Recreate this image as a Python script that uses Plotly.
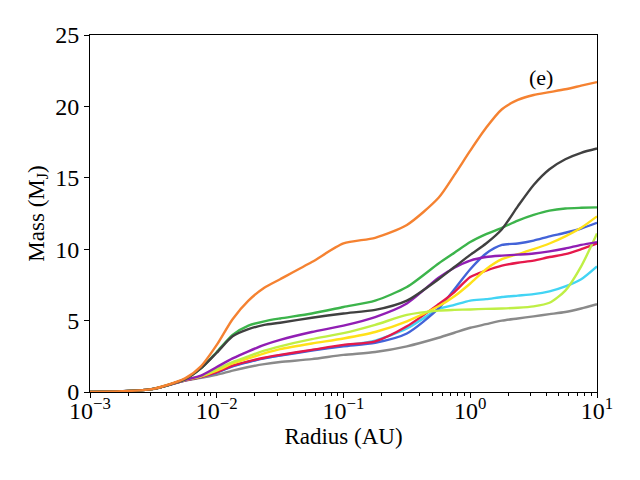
import plotly.graph_objects as go

# log10(radius / AU) sample positions
log_radius = [-3, -2.75, -2.5, -2.25, -2.125, -2, -1.875, -1.75, -1.625, -1.5, -1.25, -1,
              -0.75, -0.5, -0.25, -0.125, 0, 0.125, 0.25, 0.375, 0.5, 0.625, 0.75, 0.875, 1]
radius = [10 ** v for v in log_radius]

mass_orange = [0, 0.05, 0.22, 0.95, 1.8, 3.3, 5.1, 6.4, 7.3, 7.9, 9.1, 10.4,
               10.8, 11.7, 13.6, 15.2, 16.9, 18.5, 19.8, 20.45, 20.8, 21.0, 21.2, 21.45, 21.7]
mass_green = [0, 0.05, 0.22, 0.9, 1.65, 2.8, 4.0, 4.65, 4.95, 5.15, 5.5, 5.95,
              6.4, 7.35, 9.0, 9.75, 10.5, 11.05, 11.5, 12.0, 12.4, 12.7, 12.85, 12.9, 12.93]
mass_black = [0, 0.05, 0.22, 0.9, 1.65, 2.75, 3.9, 4.4, 4.7, 4.85, 5.2, 5.5,
              5.75, 6.4, 7.9, 8.75, 9.6, 10.4, 11.4, 13.0, 14.5, 15.6, 16.3, 16.75, 17.05]
mass_purple = [0, 0.05, 0.22, 0.85, 1.15, 1.75, 2.35, 2.85, 3.3, 3.65, 4.2, 4.65,
               5.25, 6.2, 8.0, 8.7, 9.2, 9.45, 9.55, 9.62, 9.7, 9.85, 10.05, 10.3, 10.5]
mass_lime = [0, 0.05, 0.22, 0.85, 1.1, 1.6, 2.1, 2.5, 2.9, 3.2, 3.7, 4.12,
             4.7, 5.4, 5.7, 5.75, 5.78, 5.82, 5.85, 5.9, 6.0, 6.25, 7.1, 8.8, 11.1]
mass_yellow = [0, 0.05, 0.22, 0.85, 1.1, 1.5, 2.0, 2.35, 2.7, 3.0, 3.4, 3.75,
               4.2, 4.95, 6.0, 6.7, 7.6, 8.6, 9.3, 9.65, 10.0, 10.4, 10.9, 11.5, 12.3]
mass_red = [0, 0.05, 0.22, 0.82, 1.05, 1.4, 1.85, 2.15, 2.4, 2.6, 2.95, 3.3,
            3.55, 4.6, 6.15, 7.0, 8.05, 8.5, 8.85, 9.05, 9.2, 9.45, 9.65, 10.0, 10.4]
mass_cyan = [0, 0.05, 0.22, 0.82, 1.05, 1.38, 1.82, 2.12, 2.37, 2.57, 2.93, 3.25,
             3.6, 4.45, 5.8, 6.1, 6.4, 6.5, 6.65, 6.75, 6.85, 7.05, 7.4, 7.9, 8.8]
mass_blue = [0, 0.05, 0.22, 0.82, 1.05, 1.35, 1.8, 2.1, 2.35, 2.55, 2.9, 3.2,
             3.45, 4.1, 5.85, 7.2, 8.6, 9.7, 10.3, 10.4, 10.6, 10.9, 11.15, 11.45, 11.85]
mass_gray = [0, 0.05, 0.2, 0.8, 1.0, 1.2, 1.5, 1.75, 1.95, 2.1, 2.3, 2.6,
             2.8, 3.2, 3.8, 4.15, 4.5, 4.75, 5.0, 5.15, 5.3, 5.45, 5.6, 5.85, 6.15]

series = [
    ("gray", mass_gray, "#8a8a8a"),
    ("cyan", mass_cyan, "#42d4f4"),
    ("blue", mass_blue, "#4363d8"),
    ("red", mass_red, "#e6194b"),
    ("yellow", mass_yellow, "#ffe119"),
    ("lime", mass_lime, "#bfef45"),
    ("purple", mass_purple, "#911eb4"),
    ("green", mass_green, "#3cb44b"),
    ("black", mass_black, "#404040"),
    ("orange", mass_orange, "#f58231"),
]

x_tick_vals = [1e-3, 1e-2, 1e-1, 1e0, 1e1]
x_tick_text = ["10<sup>−3</sup>", "10<sup>−2</sup>", "10<sup>−1</sup>",
               "10<sup>0</sup>", "10<sup>1</sup>"]
y_tick_vals = [0, 5, 10, 15, 20, 25]

fig = go.Figure()
for name, m, c in series:
    fig.add_trace(go.Scatter(x=radius, y=m, mode="lines", name=name,
                             line=dict(color=c, width=2.4, shape="spline", smoothing=0.7)))

font_family = "'Liberation Serif', 'Times New Roman', serif"
fig.add_annotation(x=0.558, y=22.05, xref="x", yref="y", text="(e)", showarrow=False,
                   font=dict(family=font_family, size=22, color="black"))

# the page adds an 8px body margin, so the margins are shifted to compensate
fig.update_layout(
    width=640, height=480,
    margin=dict(l=82, r=51, t=27, b=96, autoexpand=False),
    paper_bgcolor="white", plot_bgcolor="white",
    showlegend=False,
    font=dict(family=font_family, size=24, color="black"),
)
fig.update_xaxes(
    type="log", range=[-3, 1], tickmode="array", tickvals=x_tick_vals, ticktext=x_tick_text,
    ticks="outside", ticklen=5, tickwidth=1, tickcolor="black",
    showline=True, linecolor="black", linewidth=1, mirror=True, showgrid=False, zeroline=False,
    minor=dict(ticks="outside", ticklen=3, tickcolor="black", dtick="D1", showgrid=False),
    title=dict(text="Radius (AU)", font=dict(size=23), standoff=0),
    tickfont=dict(size=24), automargin=False, ticklabelstandoff=-8,
)
fig.update_yaxes(
    range=[0, 25], tickmode="array", tickvals=y_tick_vals,
    ticks="outside", ticklen=5, tickwidth=1, tickcolor="black",
    showline=True, linecolor="black", linewidth=1, mirror=True, showgrid=False, zeroline=False,
    title=dict(text="Mass (M<sub>J</sub>)", font=dict(size=23), standoff=4),
    tickfont=dict(size=24), automargin=False,
)

fig.write_html("out.html")
